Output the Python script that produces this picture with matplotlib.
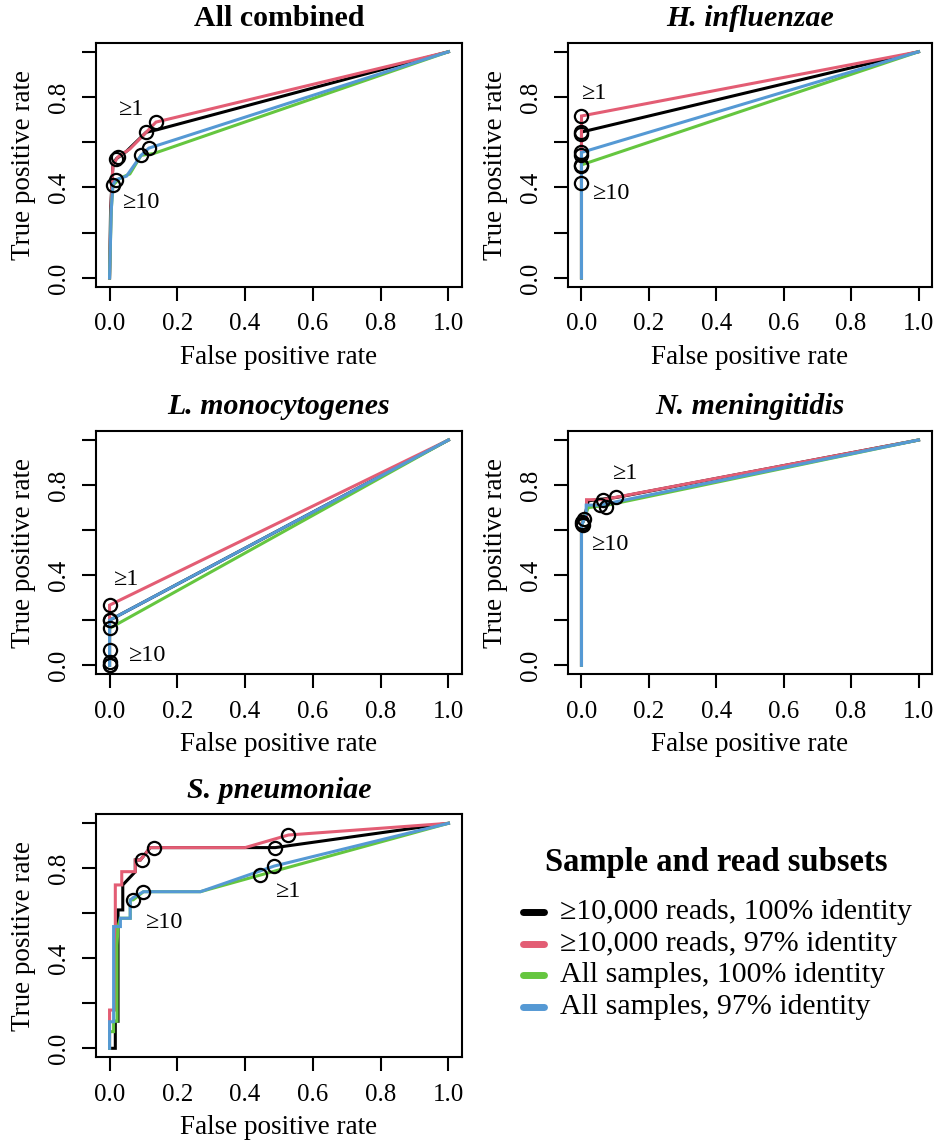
import matplotlib
matplotlib.use('Agg')
import matplotlib.pyplot as plt

plt.rcParams['font.family'] = ['Liberation Serif', 'DejaVu Serif']

# series (order of drawing: black, pink, green, blue)
series_names = ['\u226510,000 reads, 100% identity',
                '\u226510,000 reads, 97% identity',
                'All samples, 100% identity',
                'All samples, 97% identity']
series_colors = ['#000000', '#E35D74', '#65C63F', '#5599D4']

# ---- All combined ----
comb_fpr = [[0, 0.003, 0.01, 0.02, 0.05, 0.108, 0.14, 1],
            [0, 0.005, 0.01, 0.024, 0.06, 0.108, 0.137, 1],
            [0, 0.005, 0.01, 0.03, 0.06, 0.093, 0.13, 1],
            [0, 0.005, 0.01, 0.02, 0.05, 0.093, 0.116, 1]]
comb_tpr = [[0, 0.30, 0.50, 0.527, 0.56, 0.644, 0.655, 1],
            [0, 0.35, 0.50, 0.534, 0.57, 0.644, 0.689, 1],
            [0, 0.30, 0.41, 0.44, 0.46, 0.542, 0.55, 1],
            [0, 0.30, 0.413, 0.435, 0.45, 0.542, 0.574, 1]]
comb_cut_x = [[0.02, 0.108], [0.024, 0.137], [0.01, 0.093], [0.02, 0.116]]
comb_cut_y = [[0.527, 0.644], [0.534, 0.689], [0.413, 0.542], [0.435, 0.574]]

# ---- H. influenzae ----
hinf_fpr = [[0, 0, 0, 1], [0, 0, 0, 1], [0, 0, 0, 1], [0, 0, 0, 1]]
hinf_tpr = [[0, 0.544, 0.645, 1], [0, 0.637, 0.716, 1],
            [0, 0.419, 0.50, 1], [0, 0.493, 0.555, 1]]
hinf_cut_x = [[0, 0], [0, 0], [0, 0], [0, 0]]
hinf_cut_y = [[0.544, 0.645], [0.637, 0.716], [0.419, 0.50], [0.493, 0.555]]

# ---- L. monocytogenes ----
lmon_fpr = [[0, 0, 0, 1], [0, 0, 0, 1], [0, 0, 0, 1], [0, 0, 0, 1]]
lmon_tpr = [[0, 0.0, 0.2, 1], [0, 0.067, 0.267, 1],
            [0, 0.0, 0.164, 1], [0, 0.015, 0.2, 1]]
lmon_cut_x = [[0, 0], [0, 0], [0, 0], [0, 0]]
lmon_cut_y = [[0.0, 0.2], [0.067, 0.267], [0.0, 0.164], [0.015, 0.2]]

# ---- N. meningitidis ----
nmen_fpr = [[0, 0, 0.008, 0.02, 0.103, 1],
            [0, 0, 0.015, 0.015, 0.064, 1],
            [0, 0, 0.02, 0.074, 1],
            [0, 0, 0.014, 0.014, 0.054, 1]]
nmen_tpr = [[0, 0.62, 0.65, 0.73, 0.745, 1],
            [0, 0.63, 0.66, 0.735, 0.735, 1],
            [0, 0.62, 0.70, 0.71, 1],
            [0, 0.62, 0.67, 0.711, 0.711, 1]]
nmen_cut_x = [[0.003, 0.103], [0.007, 0.064], [0.005, 0.074], [0.003, 0.054]]
nmen_cut_y = [[0.637, 0.745], [0.65, 0.733], [0.622, 0.704], [0.625, 0.711]]

# ---- S. pneumoniae ----
spne_fpr = [[0, 0.017, 0.017, 0.025, 0.025, 0.039, 0.039, 0.076, 0.076, 0.091, 0.12, 0.489, 1],
            [0, 0, 0.012, 0.017, 0.017, 0.036, 0.036, 0.076, 0.076, 0.091, 0.12, 0.40, 0.528, 1],
            [0, 0, 0.012, 0.012, 0.022, 0.022, 0.025, 0.032, 0.061, 0.061, 0.07, 0.10, 0.268, 0.445, 1],
            [0, 0, 0.012, 0.012, 0.032, 0.032, 0.061, 0.061, 0.07, 0.10, 0.268, 0.486, 1]]
spne_tpr = [[0, 0, 0.12, 0.12, 0.615, 0.615, 0.726, 0.785, 0.837, 0.837, 0.892, 0.892, 1],
            [0, 0.17, 0.17, 0.17, 0.726, 0.726, 0.785, 0.785, 0.837, 0.837, 0.892, 0.892, 0.948, 1],
            [0, 0.074, 0.074, 0.12, 0.12, 0.459, 0.541, 0.578, 0.578, 0.659, 0.66, 0.696, 0.696, 0.77, 1],
            [0, 0.118, 0.118, 0.541, 0.541, 0.578, 0.578, 0.659, 0.67, 0.696, 0.696, 0.81, 1]]
spne_cut_x = [[0.095, 0.489], [0.13, 0.528], [0.07, 0.445], [0.10, 0.486]]
spne_cut_y = [[0.837, 0.892], [0.892, 0.948], [0.66, 0.77], [0.696, 0.81]]

titles = ['All combined', 'H. influenzae', 'L. monocytogenes',
          'N. meningitidis', 'S. pneumoniae']
title_italic = [False, True, True, True, True]
# "\u22651" and "\u226510" label positions (data units)
lab1_xy = [(0.025, 0.745), (0.0, 0.815), (0.009, 0.382), (0.09, 0.853), (0.488, 0.699)]
lab10_xy = [(0.037, 0.333), (0.032, 0.373), (0.055, 0.042), (0.029, 0.538), (0.104, 0.557)]

panel_fpr = [comb_fpr, hinf_fpr, lmon_fpr, nmen_fpr, spne_fpr]
panel_tpr = [comb_tpr, hinf_tpr, lmon_tpr, nmen_tpr, spne_tpr]
panel_cx = [comb_cut_x, hinf_cut_x, lmon_cut_x, nmen_cut_x, spne_cut_x]
panel_cy = [comb_cut_y, hinf_cut_y, lmon_cut_y, nmen_cut_y, spne_cut_y]

W, H = 941, 1141
# axes boxes in pixels: (left, top, right, bottom)
boxes = [(96, 42.7, 462, 287), (568, 42.7, 932, 287),
         (96, 431, 462, 674.3), (568, 431, 932, 674.3),
         (96, 814.3, 462, 1057.3)]

fig = plt.figure(figsize=(W / 100, H / 100), dpi=100)

for i in range(5):
    l, t, r, b = boxes[i]
    ax = fig.add_axes([l / W, 1 - b / H, (r - l) / W, (b - t) / H])
    for k in range(4):
        ax.plot(panel_fpr[i][k], panel_tpr[i][k], color=series_colors[k], lw=2.2,
                solid_joinstyle='miter', zorder=2)
    for k in range(4):
        ax.plot(panel_cx[i][k], panel_cy[i][k], 'o', ms=9.5, mfc='none',
                mec='black', mew=1.6, zorder=3)
    ax.set_xlim(-0.04, 1.04)
    ax.set_ylim(-0.04, 1.04)
    ax.set_xticks([0, 0.2, 0.4, 0.6, 0.8, 1.0])
    ax.set_xticklabels(['0.0', '0.2', '0.4', '0.6', '0.8', '1.0'], fontsize=18)
    ax.set_yticks([0, 0.2, 0.4, 0.6, 0.8, 1.0])
    ax.set_yticklabels(['0.0', '', '0.4', '', '0.8', ''], fontsize=18,
                       rotation=90, va='center')
    ax.tick_params(direction='out', length=10, width=1.5)
    ax.tick_params(axis='x', pad=9)
    ax.tick_params(axis='y', pad=9)
    for sp in ax.spines.values():
        sp.set_linewidth(1.5)
    ax.set_xlabel('False positive rate', fontsize=19.5, labelpad=7)
    ax.set_ylabel('True positive rate', fontsize=19.5, labelpad=8)
    ax.text(0.5, 1 + 24 / (b - t), titles[i], transform=ax.transAxes,
            ha='center', va='center', fontsize=21.5, fontweight='bold',
            style='italic' if title_italic[i] else 'normal')
    ax.text(lab1_xy[i][0], lab1_xy[i][1], '\u22651', fontsize=17.5,
            ha='left', va='center')
    ax.text(lab10_xy[i][0], lab10_xy[i][1], '\u226510', fontsize=17.5,
            ha='left', va='center')

# legend drawn in pixel space
lax = fig.add_axes([0, 0, 1, 1])
lax.set_xlim(0, W)
lax.set_ylim(H, 0)
lax.axis('off')
lax.text(716, 863, 'Sample and read subsets', fontsize=23.5, fontweight='bold',
         ha='center', va='center')
for k in range(4):
    y = 912 + k * 31.7
    lax.plot([523, 544], [y, y], color=series_colors[k], lw=5,
             solid_capstyle='round')
    lax.text(560, y, series_names[k], fontsize=21.5, ha='left', va='center')

fig.savefig('out.png', dpi=100)
